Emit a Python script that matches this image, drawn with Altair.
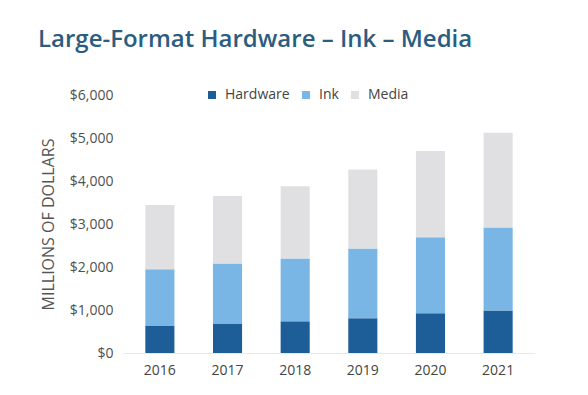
import altair as alt
import pandas as pd

years = ["2016", "2017", "2018", "2019", "2020", "2021"]
hardware = [630, 675, 737, 807, 923, 990]
ink = [1320, 1405, 1463, 1623, 1767, 1930]
media = [1490, 1570, 1680, 1840, 2010, 2200]
series = ["Hardware", "Ink", "Media"]
colors = ["#1d5e98", "#7ab6e5", "#e0e0e2"]

rows = []
for i, y in enumerate(years):
    for k, (name, vals) in enumerate(zip(series, [hardware, ink, media])):
        rows.append({"year": y, "series": name, "value": vals[i], "order": k})
df = pd.DataFrame(rows)

FONT = "Open Sans"

chart = alt.Chart(df).mark_bar().encode(
    x=alt.X("year:N", sort=years,
            scale=alt.Scale(paddingInner=0.57, paddingOuter=0.33),
            axis=alt.Axis(title=None, labelAngle=0, ticks=False, domain=True,
                          domainColor="#e8e8e8", labelFontSize=14, labelColor="#444444",
                          labelFont=FONT, labelPadding=10)),
    y=alt.Y("value:Q", stack="zero",
            scale=alt.Scale(domain=[0, 6000], nice=False),
            axis=alt.Axis(title="MILLIONS OF DOLLARS", values=[0, 1000, 2000, 3000, 4000, 5000, 6000],
                          format="$,d", grid=False, domain=False, ticks=False,
                          labelFontSize=14, labelColor="#505050", labelFont=FONT, labelPadding=10,
                          titleFont=FONT, titleFontSize=16, titleFontWeight="normal",
                          titleColor="#555555", titlePadding=13)),
    color=alt.Color("series:N", sort=series,
                    scale=alt.Scale(domain=series, range=colors),
                    legend=alt.Legend(title=None, orient="none", direction="horizontal",
                                      legendX=82, legendY=-7, symbolType="square",
                                      symbolSize=64, symbolStrokeWidth=0, labelFontSize=14,
                                      labelFont=FONT, labelColor="#444444", labelOffset=6,
                                      columnPadding=9)),
    order=alt.Order("order:Q", sort="ascending"),
).properties(
    width=412,
    height=258,
    autosize=alt.AutoSizeParams(type="none"),
    padding={"left": 115, "top": 87, "right": 45, "bottom": 34},
    title=alt.TitleParams("Large-Format Hardware – Ink – Media", anchor="start",
                          font=FONT, fontSize=24, fontWeight=600, color="#2b5d80",
                          frame="group", dx=-85, dy=-17, baseline="alphabetic", offset=0),
).configure(background="white", view=alt.ViewConfig(stroke=None))

chart.save("out.html", embed_options={"renderer": "svg", "actions": False})
